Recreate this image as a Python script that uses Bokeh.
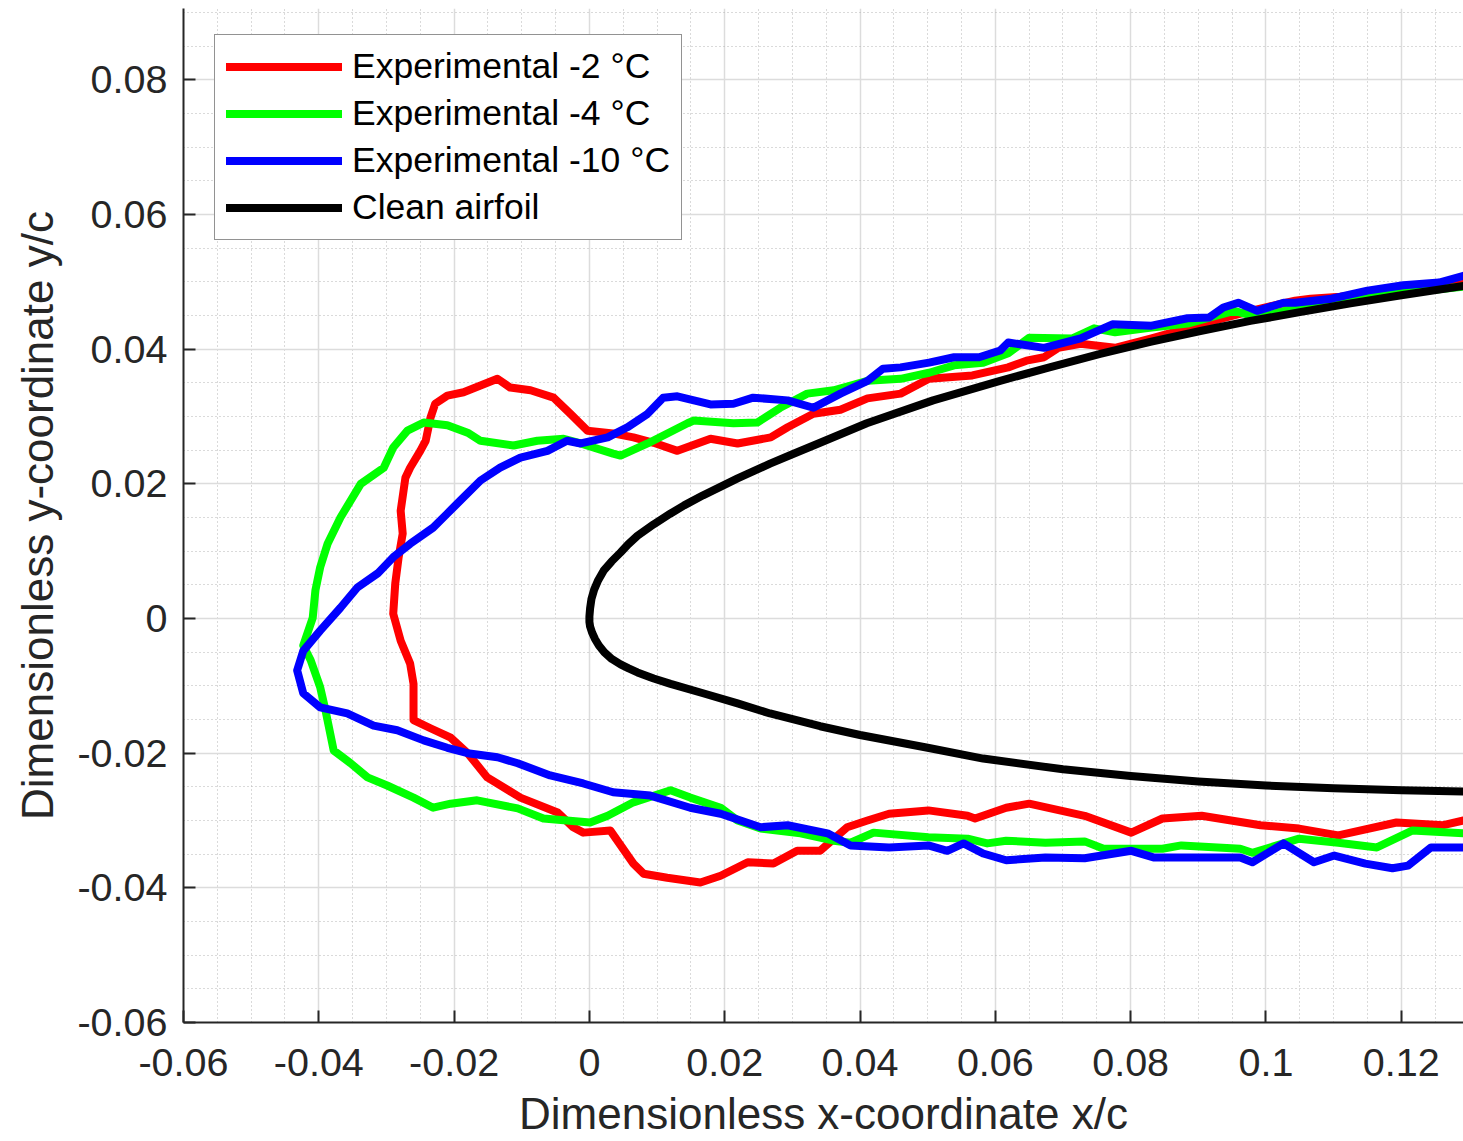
from bokeh.plotting import figure
from bokeh.models import Range1d, FixedTicker, Legend, LegendItem
from bokeh.embed import file_html
from bokeh.resources import INLINE
import numpy as np

# ---------------- data ----------------
red_x = [0.1292, 0.1199, 0.1110, 0.1066, 0.1043, 0.0990, 0.0937, 0.0884, 0.0831, 0.0777,
         0.0726, 0.0693, 0.0672, 0.0646, 0.0619, 0.0566, 0.0502, 0.0460, 0.0411, 0.0371,
         0.0331, 0.0293, 0.0268, 0.0219, 0.0179, 0.0130, 0.0095, 0.0065, 0.0035, -0.0003,
         -0.0028, -0.0053, -0.0087, -0.0117, -0.0136, -0.0161, -0.0186, -0.0210, -0.0228, -0.0235,
         -0.0242, -0.0250, -0.0265, -0.0272, -0.0279, -0.0276, -0.0282, -0.0287, -0.0290, -0.0279,
         -0.0265, -0.0260, -0.0260, -0.0235, -0.0205, -0.0180, -0.0151, -0.0102, -0.0047, -0.0024,
         -0.0009, 0.0031, 0.0065, 0.0080, 0.0115, 0.0164, 0.0194, 0.0234, 0.0272, 0.0307,
         0.0341, 0.0381, 0.0411, 0.0443, 0.0501, 0.0559, 0.0570, 0.0616, 0.0650, 0.0732,
         0.0801, 0.0847, 0.0905, 0.0992, 0.1049, 0.1107, 0.1193, 0.1262, 0.1292]
red_y = [0.0497, 0.0489, 0.0478, 0.0475, 0.0472, 0.0460, 0.0446, 0.0431, 0.0416, 0.0402,
         0.0408, 0.0402, 0.0388, 0.0383, 0.0373, 0.0361, 0.0356, 0.0334, 0.0327, 0.0310,
         0.0304, 0.0284, 0.0269, 0.0260, 0.0267, 0.0249, 0.0261, 0.0269, 0.0275, 0.0279,
         0.0304, 0.0328, 0.0339, 0.0343, 0.0356, 0.0346, 0.0336, 0.0331, 0.0319, 0.0298,
         0.0264, 0.0249, 0.0224, 0.0209, 0.0160, 0.0126, 0.0091, 0.0052, 0.0007, -0.0033,
         -0.0067, -0.0097, -0.0151, -0.0163, -0.0177, -0.0200, -0.0236, -0.0266, -0.0288, -0.0310,
         -0.0318, -0.0315, -0.0364, -0.0379, -0.0385, -0.0392, -0.0382, -0.0362, -0.0364, -0.0345,
         -0.0345, -0.0310, -0.0300, -0.0290, -0.0285, -0.0293, -0.0297, -0.0281, -0.0275, -0.0293,
         -0.0318, -0.0297, -0.0293, -0.0307, -0.0312, -0.0322, -0.0303, -0.0307, -0.0300]

green_x = [0.1292, 0.1199, 0.1095, 0.1036, 0.0990, 0.0953, 0.0927, 0.0884, 0.0831, 0.0777,
           0.0746, 0.0714, 0.0650, 0.0619, 0.0582, 0.0539, 0.0502, 0.0460, 0.0411, 0.0361,
           0.0322, 0.0282, 0.0248, 0.0213, 0.0154, 0.0145, 0.0086, 0.0046, 0.0035, -0.0013,
           -0.0038, -0.0077, -0.0112, -0.0161, -0.0180, -0.0210, -0.0245, -0.0269, -0.0290, -0.0304,
           -0.0338, -0.0368, -0.0387, -0.0398, -0.0405, -0.0409, -0.0423, -0.0412, -0.0398, -0.0390,
           -0.0378, -0.0353, -0.0328, -0.0299, -0.0260, -0.0231, -0.0205, -0.0166, -0.0106, -0.0068,
           0.0001, 0.0027, 0.0065, 0.0120, 0.0149, 0.0194, 0.0219, 0.0253, 0.0312, 0.0361,
           0.0386, 0.0420, 0.0501, 0.0559, 0.0588, 0.0616, 0.0674, 0.0732, 0.0760, 0.0847,
           0.0875, 0.0962, 0.0980, 0.1049, 0.1107, 0.1164, 0.1216, 0.1292]
green_y = [0.0493, 0.0483, 0.0469, 0.0459, 0.0447, 0.0457, 0.0450, 0.0438, 0.0432, 0.0425,
           0.0431, 0.0416, 0.0417, 0.0394, 0.0380, 0.0376, 0.0365, 0.0356, 0.0353, 0.0339,
           0.0334, 0.0313, 0.0291, 0.0290, 0.0294, 0.0290, 0.0260, 0.0242, 0.0245, 0.0260,
           0.0267, 0.0264, 0.0257, 0.0264, 0.0276, 0.0287, 0.0291, 0.0279, 0.0254, 0.0224,
           0.0200, 0.0150, 0.0111, 0.0076, 0.0042, 0.0001, -0.0040, -0.0062, -0.0102, -0.0137,
           -0.0196, -0.0215, -0.0236, -0.0248, -0.0266, -0.0281, -0.0275, -0.0270, -0.0282, -0.0297,
           -0.0303, -0.0293, -0.0273, -0.0255, -0.0266, -0.0281, -0.0300, -0.0312, -0.0319, -0.0330,
           -0.0333, -0.0318, -0.0325, -0.0327, -0.0334, -0.0330, -0.0333, -0.0331, -0.0342, -0.0342,
           -0.0337, -0.0342, -0.0348, -0.0327, -0.0333, -0.0340, -0.0315, -0.0319]

blue_x = [0.1292, 0.1256, 0.1203, 0.1150, 0.1097, 0.1043, 0.1026, 0.0987, 0.0959, 0.0937,
          0.0916, 0.0884, 0.0831, 0.0773, 0.0726, 0.0672, 0.0619, 0.0607, 0.0576, 0.0539,
          0.0502, 0.0460, 0.0434, 0.0411, 0.0371, 0.0331, 0.0293, 0.0242, 0.0213, 0.0179,
          0.0130, 0.0109, 0.0086, 0.0056, 0.0027, -0.0013, -0.0033, -0.0062, -0.0102, -0.0132,
          -0.0161, -0.0191, -0.0210, -0.0231, -0.0265, -0.0290, -0.0313, -0.0343, -0.0368, -0.0398,
          -0.0423, -0.0432, -0.0423, -0.0398, -0.0358, -0.0319, -0.0284, -0.0245, -0.0210, -0.0180,
          -0.0136, -0.0106, -0.0058, -0.0009, 0.0035, 0.0090, 0.0149, 0.0194, 0.0253, 0.0293,
          0.0352, 0.0386, 0.0443, 0.0501, 0.0529, 0.0553, 0.0582, 0.0616, 0.0674, 0.0732,
          0.0801, 0.0835, 0.0905, 0.0962, 0.0980, 0.1026, 0.1071, 0.1101, 0.1147, 0.1187,
          0.1210, 0.1244, 0.1292]
blue_y = [0.0509, 0.0499, 0.0495, 0.0487, 0.0475, 0.0469, 0.0469, 0.0457, 0.0469, 0.0462,
          0.0447, 0.0446, 0.0435, 0.0437, 0.0416, 0.0402, 0.0410, 0.0398, 0.0388, 0.0388,
          0.0380, 0.0373, 0.0371, 0.0353, 0.0334, 0.0313, 0.0324, 0.0328, 0.0319, 0.0318,
          0.0330, 0.0328, 0.0304, 0.0284, 0.0269, 0.0260, 0.0264, 0.0249, 0.0239, 0.0224,
          0.0205, 0.0175, 0.0156, 0.0135, 0.0111, 0.0091, 0.0067, 0.0046, 0.0016, -0.0018,
          -0.0048, -0.0077, -0.0111, -0.0132, -0.0141, -0.0159, -0.0166, -0.0181, -0.0192, -0.0200,
          -0.0206, -0.0215, -0.0233, -0.0245, -0.0258, -0.0263, -0.0281, -0.0290, -0.0310, -0.0307,
          -0.0319, -0.0337, -0.0340, -0.0337, -0.0345, -0.0334, -0.0349, -0.0359, -0.0355, -0.0356,
          -0.0345, -0.0355, -0.0355, -0.0355, -0.0362, -0.0334, -0.0362, -0.0352, -0.0364, -0.0371,
          -0.0367, -0.0340, -0.0340]

airfoil_x = [0.1292, 0.1200, 0.1125, 0.1050, 0.0977, 0.0903, 0.0829, 0.0755, 0.0680, 0.0607,
             0.0508, 0.0410, 0.0341, 0.0300, 0.0267, 0.0219, 0.0168, 0.0140, 0.0120, 0.0095,
             0.0071, 0.0057, 0.0046, 0.0033, 0.0021, 0.0013, 0.0007, 0.0003, 0.0001, 0.0000,
             0.0000, 0.0001, 0.0004, 0.0008, 0.0014, 0.0022, 0.0033, 0.0046, 0.0058, 0.0071,
             0.0095, 0.0120, 0.0168, 0.0219, 0.0267, 0.0341, 0.0400, 0.0500, 0.0582, 0.0700,
             0.0800, 0.0900, 0.1000, 0.1100, 0.1200, 0.1292]
airfoil_y = [0.0494, 0.0480, 0.0468, 0.0455, 0.0442, 0.0427, 0.0411, 0.0393, 0.0373, 0.0353,
             0.0324, 0.0290, 0.0261, 0.0244, 0.0230, 0.0208, 0.0183, 0.0168, 0.0156, 0.0140,
             0.0123, 0.0110, 0.0098, 0.0085, 0.0071, 0.0057, 0.0043, 0.0029, 0.0015, 0.0003,
             -0.0005, -0.0012, -0.0021, -0.0030, -0.0040, -0.0050, -0.0060, -0.0068, -0.0074, -0.0080,
             -0.0089, -0.0097, -0.0111, -0.0126, -0.0141, -0.0160, -0.0173, -0.0192, -0.0208, -0.0224,
             -0.0234, -0.0242, -0.0248, -0.0252, -0.0255, -0.0257]

series_labels = ["Experimental -2 \u00b0C", "Experimental -4 \u00b0C",
                 "Experimental -10 \u00b0C", "Clean airfoil"]
series_colors = ["#ff0000", "#00ff00", "#0000ff", "#000000"]

x_ticks = [-0.06, -0.04, -0.02, 0, 0.02, 0.04, 0.06, 0.08, 0.1, 0.12]
x_tick_labels = ["-0.06", "-0.04", "-0.02", "0", "0.02", "0.04", "0.06", "0.08", "0.1", "0.12"]
y_ticks = [-0.06, -0.04, -0.02, 0, 0.02, 0.04, 0.06, 0.08]
y_tick_labels = ["-0.06", "-0.04", "-0.02", "0", "0.02", "0.04", "0.06", "0.08"]
x_title = "Dimensionless x-coordinate x/c"
y_title = "Dimensionless y-coordinate y/c"

# ---------------- figure ----------------
FONT = "Liberation Sans"
TXT = "#262626"

p = figure(width=1463, height=1141, output_backend="svg", toolbar_location=None,
           x_range=Range1d(-0.06, 0.1292), y_range=Range1d(-0.06, 0.0906),
           min_border_left=183, min_border_right=0, min_border_top=8, min_border_bottom=119)
p.outline_line_color = None
p.background_fill_color = "white"
p.border_fill_color = "white"

x_minor = [round(v, 4) for v in np.arange(-0.06, 0.1301, 0.005) if round(v / 0.02, 6) % 1 != 0]
y_minor = [round(v, 4) for v in np.arange(-0.06, 0.0951, 0.005) if round(v / 0.02, 6) % 1 != 0]

p.xaxis.ticker = FixedTicker(ticks=x_ticks, minor_ticks=x_minor)
p.yaxis.ticker = FixedTicker(ticks=y_ticks, minor_ticks=y_minor)
p.xaxis.major_label_overrides = dict(zip(x_ticks, x_tick_labels))
p.yaxis.major_label_overrides = dict(zip(y_ticks, y_tick_labels))

for ax in (p.xaxis[0], p.yaxis[0]):
    ax.axis_line_color = TXT
    ax.axis_line_width = 2
    ax.major_tick_line_color = TXT
    ax.major_tick_line_width = 2
    ax.major_tick_in = 12
    ax.major_tick_out = 0
    ax.minor_tick_in = 0
    ax.minor_tick_out = 0
    ax.major_label_text_font = FONT
    ax.major_label_text_font_size = "39.5px"
    ax.major_label_text_color = TXT
    ax.axis_label_text_font = FONT
    ax.axis_label_text_font_size = "44px"
    ax.axis_label_text_font_style = "normal"
    ax.axis_label_text_color = TXT

p.xaxis.axis_label = x_title
p.yaxis.axis_label = y_title
p.xaxis.major_label_standoff = 26
p.xaxis.axis_label_standoff = 10
p.yaxis.major_label_standoff = 16
p.yaxis.axis_label_standoff = 12

for g in (p.xgrid[0], p.ygrid[0]):
    g.grid_line_color = "#dcdcdc"
    g.grid_line_width = 1.5
    g.minor_grid_line_color = "#b4b4b4"
    g.minor_grid_line_width = 1
    g.minor_grid_line_dash = "1 3"

xs = [red_x, green_x, blue_x, airfoil_x]
ys = [red_y, green_y, blue_y, airfoil_y]
items = []
for x, y, lab, col in zip(xs, ys, series_labels, series_colors):
    r = p.line(x, y, line_color=col, line_width=8, line_join="round", line_cap="round")
    items.append(LegendItem(label=lab, renderers=[r]))

legend = Legend(items=items, location=(31, 782))
legend.label_text_font = FONT
legend.label_text_font_size = "35.5px"
legend.label_text_color = "#000000"
legend.glyph_width = 116
legend.glyph_height = 39
legend.label_height = 39
legend.label_standoff = 10
legend.spacing = 6
legend.padding = 11
legend.margin = 0
legend.border_line_color = TXT
legend.border_line_width = 1.5
legend.background_fill_color = "white"
legend.background_fill_alpha = 1.0
p.add_layout(legend)

open("out.html", "w").write(file_html(p, INLINE))
